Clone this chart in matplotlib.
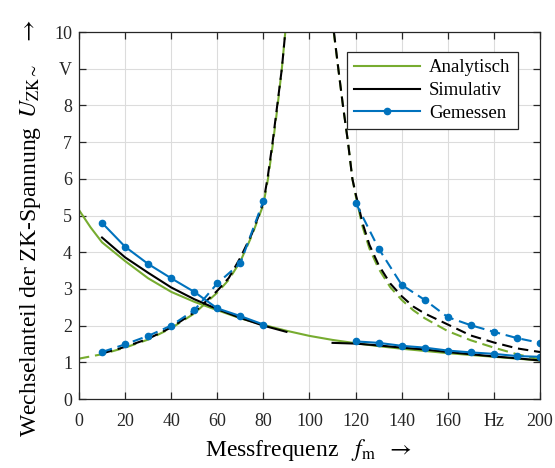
import matplotlib.pyplot as plt
import numpy as np

plt.rcParams['font.family'] = ['Liberation Serif', 'DejaVu Serif']
plt.rcParams['mathtext.fontset'] = 'stix'

# Analytisch (green)
ana_x = [0, 5, 10, 20, 30, 40, 50, 60, 70, 80, 90, 100, 110, 120, 130, 140, 150,
         160, 170, 180, 190, 200]
ana_y = [5.15, 4.68, 4.27, 3.76, 3.29, 2.92, 2.65, 2.42, 2.20, 2.02, 1.86, 1.72,
         1.61, 1.52, 1.44, 1.37, 1.31, 1.25, 1.20, 1.15, 1.10, 1.05]
ana_res_lx = [0, 10, 20, 30, 40, 50, 60, 65, 70, 75, 80, 82, 84, 86, 88, 89.5]
ana_res_ly = [1.10, 1.22, 1.40, 1.62, 1.93, 2.33, 2.90, 3.25, 3.75, 4.45, 5.30,
              6.0, 6.9, 7.9, 9.0, 10.0]
ana_res_rx = [110.5, 112.5, 114.5, 116.7, 118.6, 120, 123, 126, 130, 135, 140,
              145, 150, 160, 170, 180, 190, 200]
ana_res_ry = [10.0, 9.0, 8.0, 7.0, 6.0, 5.55, 4.7, 4.1, 3.55, 3.05, 2.70, 2.42,
              2.20, 1.85, 1.60, 1.40, 1.22, 1.08]

# Simulativ (black)
sim_lx = [10, 20, 30, 40, 50, 60, 70, 80, 90]
sim_ly = [4.40, 3.86, 3.44, 3.04, 2.72, 2.45, 2.21, 2.00, 1.83]
sim_rx = [110, 120, 130, 140, 150, 160, 170, 180, 190, 200]
sim_ry = [1.53, 1.51, 1.46, 1.40, 1.35, 1.28, 1.22, 1.16, 1.11, 1.05]
sim_res_lx = [10, 20, 30, 40, 50, 60, 65, 70, 75, 80, 82, 84, 86, 88, 89.5]
sim_res_ly = [1.24, 1.42, 1.64, 1.95, 2.36, 2.95, 3.30, 3.85, 4.50, 5.35, 6.1,
              7.0, 8.0, 9.0, 10.0]
sim_res_rx = [110.6, 112.5, 114.5, 116.7, 118.6, 120, 123, 126, 130, 135, 140,
              145, 150, 160, 170, 180, 190, 200]
sim_res_ry = [10.0, 9.0, 8.0, 7.0, 6.0, 5.6, 4.8, 4.2, 3.65, 3.15, 2.80, 2.52,
              2.33, 2.03, 1.73, 1.54, 1.38, 1.28]

# Gemessen (blue)
gem_lx = [10, 20, 30, 40, 50, 60, 70, 80]
gem_ly = [4.80, 4.15, 3.68, 3.29, 2.92, 2.47, 2.26, 2.03]
gem_rx = [120, 130, 140, 150, 160, 170, 180, 190, 200]
gem_ry = [1.57, 1.53, 1.45, 1.40, 1.32, 1.27, 1.23, 1.17, 1.15]
gem_res_lx = [10, 20, 30, 40, 50, 60, 70, 80]
gem_res_ly = [1.28, 1.49, 1.72, 2.00, 2.42, 3.15, 3.70, 5.40]
gem_res_rx = [120, 130, 140, 150, 160, 170, 180, 190, 200]
gem_res_ry = [5.35, 4.10, 3.11, 2.70, 2.23, 2.01, 1.83, 1.66, 1.53]

x_ticks = list(range(0, 201, 20))
x_labels = ['0', '20', '40', '60', '80', '100', '120', '140', '160', 'Hz', '200']
y_ticks = list(range(0, 11))
y_labels = ['0', '1', '2', '3', '4', '5', '6', '7', '8', 'V', '10']

green = '#77AC30'
blue = '#0072BD'
lw = 1.5
dash = (5, 2.8)

fig = plt.figure(figsize=(5.55, 4.68), dpi=100)
ax = fig.add_axes([0.1423, 0.1474, 0.8307, 0.7842])

ax.plot(ana_x, ana_y, color=green, lw=lw, label='Analytisch')
ax.plot(ana_res_lx, ana_res_ly, color=green, lw=lw, dashes=dash)
ax.plot(ana_res_rx, ana_res_ry, color=green, lw=lw, dashes=dash)

ax.plot(sim_lx, sim_ly, color='black', lw=lw, label='Simulativ')
ax.plot(sim_rx, sim_ry, color='black', lw=lw)
ax.plot(sim_res_lx, sim_res_ly, color='black', lw=lw, dashes=dash)
ax.plot(sim_res_rx, sim_res_ry, color='black', lw=lw, dashes=dash)

ms = 4.5
ax.plot(gem_lx, gem_ly, color=blue, lw=lw, marker='o', ms=ms, label='Gemessen')
ax.plot(gem_rx, gem_ry, color=blue, lw=lw, marker='o', ms=ms)
ax.plot(gem_res_lx, gem_res_ly, color=blue, lw=lw, marker='o', ms=ms, dashes=dash)
ax.plot(gem_res_rx, gem_res_ry, color=blue, lw=lw, marker='o', ms=ms, dashes=dash)

ax.set_xlim(0, 200)
ax.set_ylim(0, 10)
ax.set_xticks(x_ticks)
ax.set_xticklabels(x_labels)
ax.set_yticks(y_ticks)
ax.set_yticklabels(y_labels)
ax.tick_params(direction='in', top=True, right=True, length=5, width=0.9,
               labelsize=13, color='#262626', labelcolor='#262626')
ax.tick_params(axis='x', pad=10)
ax.tick_params(axis='y', pad=5)
for s in ax.spines.values():
    s.set_color('#262626')
    s.set_linewidth(0.9)
ax.grid(True, color='#dcdcdc', lw=0.8)
ax.set_axisbelow(True)

ax.set_xlabel(r'Messfrequenz$\quad f_{\mathrm{m}}\ \ \rightarrow$', fontsize=17)
ax.xaxis.set_label_coords(0.497, -0.104)
ax.set_ylabel(r'Wechselanteil der ZK-Spannung$\;\;U_{\mathrm{ZK}\sim}\quad\rightarrow$',
              fontsize=17)
ax.yaxis.set_label_coords(-0.078, 0.467)

leg = ax.legend(loc='upper right', bbox_to_anchor=(0.952, 0.946),
                borderaxespad=0, fontsize=13.5, handlelength=3.5,
                fancybox=False, framealpha=1, edgecolor='#262626',
                labelspacing=0.3, borderpad=0.4, handletextpad=0.5)
leg.get_frame().set_linewidth(0.9)

fig.savefig('out.png', dpi=100)
